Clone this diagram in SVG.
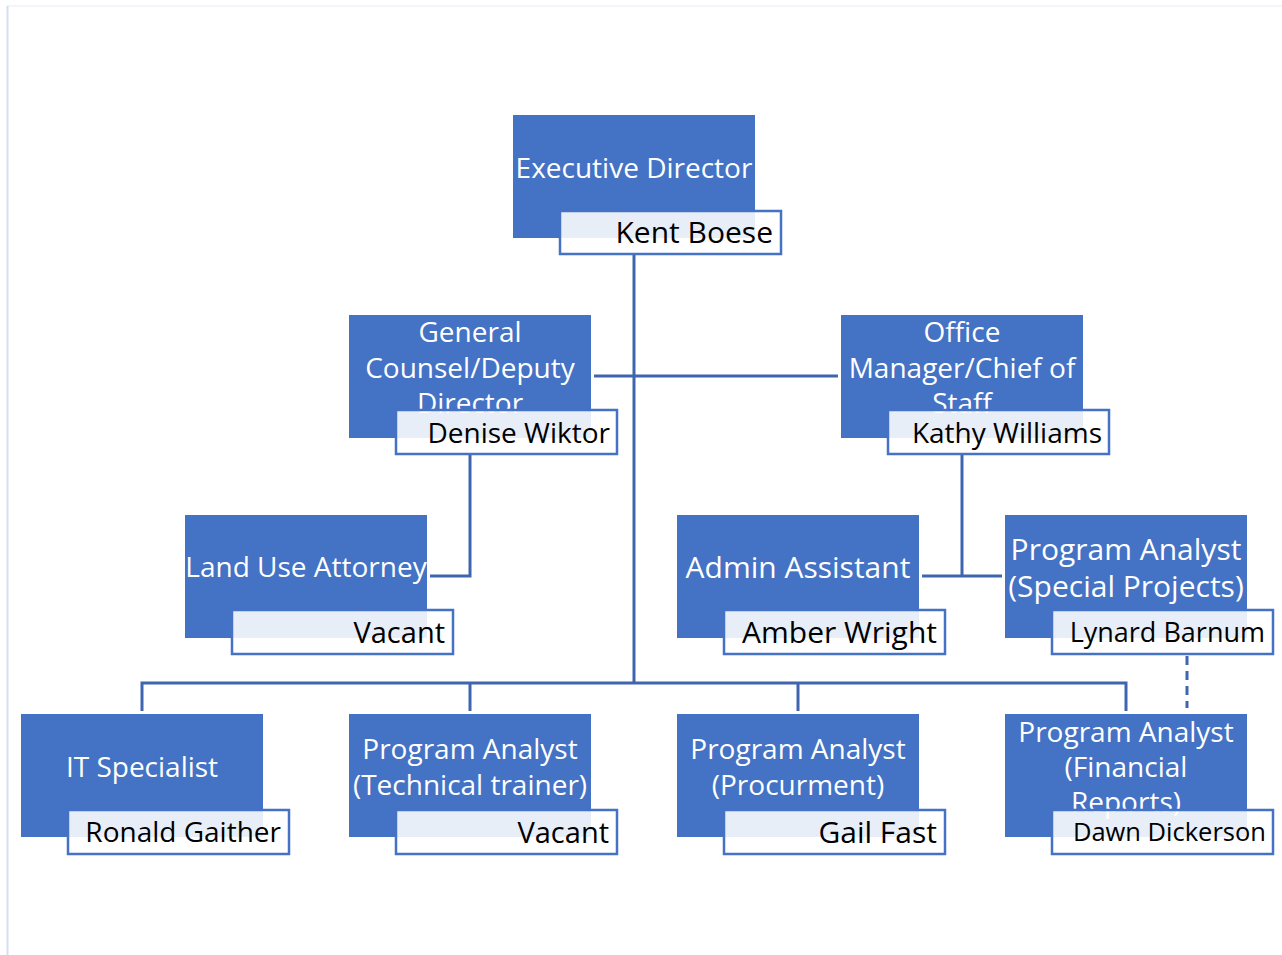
<svg xmlns="http://www.w3.org/2000/svg" width="1282" height="955" viewBox="0 0 1282 955">
<style>
.box{fill:#4472c4;}
.nm{fill:#ffffff;fill-opacity:0.88;stroke:#4472c4;stroke-width:2.5;}
.t{font-family:"Open Sans","Noto Sans",sans-serif;font-size:28px;fill:#ffffff;text-anchor:middle;}
.n{font-family:"Open Sans","Noto Sans",sans-serif;font-size:29px;fill:#000000;text-anchor:end;}
.c{fill:none;stroke:#3f65ae;stroke-width:3;}
</style>
<rect x="0" y="0" width="1282" height="955" fill="#ffffff"/>
<line x1="7" y1="6" x2="1282" y2="6" stroke="#f0f2fa" stroke-width="1.5"/>
<line x1="7.5" y1="6" x2="7.5" y2="955" stroke="#d6def2" stroke-width="2"/>
<g id="connectors">
<path class="c" d="M634 254 V683"/>
<path class="c" d="M594 376 H838"/>
<path class="c" d="M470 454 V576 H430"/>
<path class="c" d="M962 454 V576 H922 M962 576 H1002"/>
<path class="c" d="M142 711 V683 H1126 V711 M470 683 V711 M798 683 V711"/>
<path class="c" d="M1187 656 V708" stroke-dasharray="9,6"/>
</g>
<g id="n-exec">
<rect class="box" x="513" y="115" width="242" height="123"/>
<text class="t" x="634" y="178">Executive Director</text>
<rect class="nm" x="560" y="211" width="221" height="43"/>
<text class="n" x="773" y="243" style="font-size:30px">Kent Boese</text>
</g>
<g id="n-gc">
<rect class="box" x="349" y="315" width="242" height="123"/>
<text class="t" x="470" y="342">General</text>
<text class="t" x="470" y="378">Counsel/Deputy</text>
<text class="t" x="470" y="413">Director</text>
<rect class="nm" x="396" y="410" width="221" height="44"/>
<text class="n" x="610" y="443" style="font-size:28px">Denise Wiktor</text>
</g>
<g id="n-om">
<rect class="box" x="841" y="315" width="242" height="123"/>
<text class="t" x="962" y="342">Office</text>
<text class="t" x="962" y="378">Manager/Chief of</text>
<text class="t" x="962" y="413">Staff</text>
<rect class="nm" x="888" y="410" width="221" height="44"/>
<text class="n" x="1102" y="443" style="font-size:28px">Kathy Williams</text>
</g>
<g id="n-lua">
<rect class="box" x="185" y="515" width="242" height="123"/>
<text class="t" x="306" y="577">Land Use Attorney</text>
<rect class="nm" x="232" y="610" width="221" height="44"/>
<text class="n" x="445" y="643">Vacant</text>
</g>
<g id="n-aa">
<rect class="box" x="677" y="515" width="242" height="123"/>
<text class="t" x="798" y="578" style="font-size:30px">Admin Assistant</text>
<rect class="nm" x="724" y="610" width="221" height="44"/>
<text class="n" x="937" y="643" style="font-size:30px">Amber Wright</text>
</g>
<g id="n-pasp">
<rect class="box" x="1005" y="515" width="242" height="123"/>
<text class="t" x="1126" y="560" style="font-size:30px">Program Analyst</text>
<text class="t" x="1126" y="597" style="font-size:30px">(Special Projects)</text>
<rect class="nm" x="1052" y="610" width="221" height="44"/>
<text class="n" x="1265" y="642" style="font-size:27px">Lynard Barnum</text>
</g>
<g id="n-it">
<rect class="box" x="21" y="714" width="242" height="123"/>
<text class="t" x="142" y="777">IT Specialist</text>
<rect class="nm" x="68" y="810" width="221" height="44"/>
<text class="n" x="281" y="842" style="font-size:28px">Ronald Gaither</text>
</g>
<g id="n-patt">
<rect class="box" x="349" y="714" width="242" height="123"/>
<text class="t" x="470" y="759">Program Analyst</text>
<text class="t" x="470" y="795">(Technical trainer)</text>
<rect class="nm" x="396" y="810" width="221" height="44"/>
<text class="n" x="609" y="843">Vacant</text>
</g>
<g id="n-pap">
<rect class="box" x="677" y="714" width="242" height="123"/>
<text class="t" x="798" y="759">Program Analyst</text>
<text class="t" x="798" y="795">(Procurment)</text>
<rect class="nm" x="724" y="810" width="221" height="44"/>
<text class="n" x="937" y="843" style="font-size:30px">Gail Fast</text>
</g>
<g id="n-pafr">
<rect class="box" x="1005" y="714" width="242" height="123"/>
<text class="t" x="1126" y="742">Program Analyst</text>
<text class="t" x="1126" y="777">(Financial</text>
<text class="t" x="1126" y="812">Reports)</text>
<rect class="nm" x="1052" y="810" width="221" height="44"/>
<text class="n" x="1266" y="841" style="font-size:25.5px">Dawn Dickerson</text>
</g>
</svg>
